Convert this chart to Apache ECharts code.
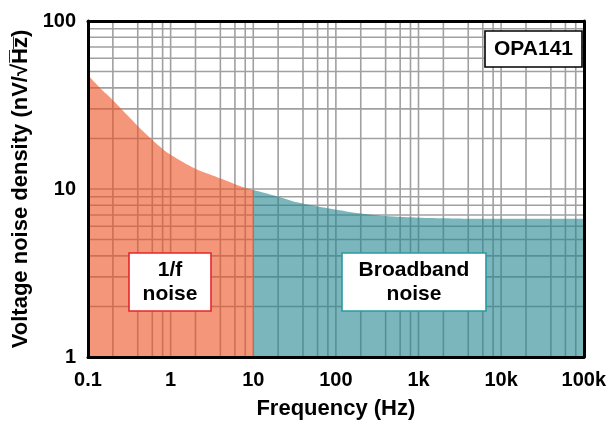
<!DOCTYPE html>
<html>
<head>
<meta charset="utf-8">
<script src="https://cdn.jsdelivr.net/npm/echarts@6/dist/echarts.min.js"></script>
<style>
html,body{margin:0;padding:0;background:#fff;}
#chart{width:609px;height:428px;}
</style>
</head>
<body>
<div id="chart"></div>
<script>
// ---- data ----
const freqOneOverF  = [0.1, 0.136, 0.2, 0.3, 0.5, 0.8, 1, 2, 3, 5, 7, 10];
const noiseOneOverF = [47.7, 40.5, 33.8, 27.5, 21.3, 17.3, 16.0, 13.2, 12.2, 11.1, 10.4, 9.85];
const freqBroadband  = [10, 20, 35, 50, 90, 200, 500, 1000, 2000, 5000, 10000, 100000];
const noiseBroadband = [9.85, 9.0, 8.3, 8.0, 7.6, 7.15, 6.85, 6.75, 6.7, 6.65, 6.65, 6.65];

const xTickLabels = ['0.1', '1', '10', '100', '1k', '10k', '100k'];
const yTickLabels = ['1', '10', '100'];
const xGridValues = [0.2, 0.4, 0.6, 0.8, 1, 2, 4, 6, 8, 10, 20, 40, 60, 80, 100,
  200, 400, 600, 800, 1000, 2000, 4000, 6000, 8000, 10000, 20000, 40000, 60000, 80000];
const yGridValues = [2, 3, 4, 5, 6, 7, 8, 9, 10, 20, 30, 40, 50, 60, 70, 80, 90];

const X_MIN = 0.1, X_MAX = 100000, Y_MIN = 1, Y_MAX = 100;
const FONT = '"Liberation Sans", Arial, Helvetica, sans-serif';
const GRID_COLOR = '#a0a0a0';

const chart = echarts.init(document.getElementById('chart'), null, {renderer: 'canvas'});

function zip(a, b) { return a.map((v, i) => [v, b[i]]); }

const labelStyle = {color: '#000', fontFamily: FONT, fontWeight: 'bold', fontSize: 20};

function boxGroup(cx, cy, w, h, lines, borderColor) {
  return {
    type: 'group',
    children: [
      {type: 'rect', shape: {x: cx - w / 2, y: cy - h / 2, width: w, height: h},
       style: {fill: '#fff', stroke: borderColor, lineWidth: 1.6}, z: 100},
      {type: 'text', x: cx, y: cy, z: 101,
       style: {text: lines, fill: '#000', font: 'bold 21px ' + FONT,
               align: 'center', verticalAlign: 'middle', lineHeight: 24}}
    ]
  };
}

const option = {
  animation: false,
  backgroundColor: '#fff',
  grid: {left: 88, right: 22, top: 21, bottom: 71, containLabel: false},
  xAxis: [{
    type: 'log', logBase: 10, min: X_MIN, max: X_MAX, position: 'bottom', z: 10,
    name: 'Frequency (Hz)', nameLocation: 'middle', nameGap: 41,
    nameTextStyle: {color: '#000', fontFamily: FONT, fontWeight: 'bold', fontSize: 22},
    axisLine: {show: true, lineStyle: {color: '#000', width: 3}},
    axisTick: {show: false},
    splitLine: {show: false},
    minorSplitLine: {show: false},
    axisLabel: Object.assign({
      margin: 13,
      formatter: v => xTickLabels[Math.round(Math.log10(v)) + 1]
    }, labelStyle)
  }, {
    type: 'log', logBase: 10, min: X_MIN, max: X_MAX, position: 'top', z: 10,
    axisLine: {show: true, lineStyle: {color: '#000', width: 3}},
    axisTick: {show: false}, axisLabel: {show: false}, splitLine: {show: false}
  }],
  yAxis: [{
    type: 'log', logBase: 10, min: Y_MIN, max: Y_MAX, position: 'left', z: 10,
    name: 'Voltage noise density (nV/\u221AH\u0305z\u0305)', nameLocation: 'middle', nameGap: 53,
    nameRotate: 90,
    nameTextStyle: {color: '#000', fontFamily: FONT, fontWeight: 'bold', fontSize: 22},
    axisLine: {show: true, lineStyle: {color: '#000', width: 3}},
    axisTick: {show: false},
    splitLine: {show: false},
    axisLabel: Object.assign({
      margin: 12,
      formatter: v => yTickLabels[Math.round(Math.log10(v))]
    }, labelStyle)
  }, {
    type: 'log', logBase: 10, min: Y_MIN, max: Y_MAX, position: 'right', z: 10,
    axisLine: {show: true, lineStyle: {color: '#000', width: 3}},
    axisTick: {show: false}, axisLabel: {show: false}, splitLine: {show: false}
  }],
  series: [
    {
      type: 'custom', name: 'vgrid', z: 1, silent: true, clip: true,
      xAxisIndex: 0, yAxisIndex: 0,
      data: xGridValues.map(v => [v, Y_MIN]),
      renderItem: (params, api) => {
        const p1 = api.coord([api.value(0), Y_MIN]);
        const p2 = api.coord([api.value(0), Y_MAX]);
        return {type: 'line', shape: {x1: p1[0], y1: p1[1], x2: p2[0], y2: p2[1]},
                style: {stroke: GRID_COLOR, lineWidth: 1.6}};
      }
    },
    {
      type: 'custom', name: 'hgrid', z: 1, silent: true, clip: true,
      xAxisIndex: 0, yAxisIndex: 0,
      data: yGridValues.map(v => [X_MIN, v]),
      renderItem: (params, api) => {
        const p1 = api.coord([X_MIN, api.value(1)]);
        const p2 = api.coord([X_MAX, api.value(1)]);
        return {type: 'line', shape: {x1: p1[0], y1: p1[1], x2: p2[0], y2: p2[1]},
                style: {stroke: GRID_COLOR, lineWidth: 1.6}};
      }
    },
    {
      type: 'line', name: '1/f noise', z: 2, silent: true,
      data: zip(freqOneOverF, noiseOneOverF),
      smooth: 0.4, symbol: 'none',
      lineStyle: {width: 0, opacity: 0},
      areaStyle: {color: 'rgba(237,80,33,0.6)', origin: 'start', opacity: 1}
    },
    {
      type: 'line', name: 'Broadband noise', z: 2, silent: true,
      data: zip(freqBroadband, noiseBroadband),
      smooth: 0.4, symbol: 'none',
      lineStyle: {width: 0, opacity: 0},
      areaStyle: {color: 'rgba(33,133,143,0.6)', origin: 'start', opacity: 1}
    }
  ],
  graphic: [
    boxGroup(170, 282, 82, 58, '1/f\nnoise', '#e8262a'),
    boxGroup(414, 282, 144, 58, 'Broadband\nnoise', '#2a9aa0'),
    boxGroup(533.5, 49, 97, 36, 'OPA141', '#000')
  ]
};

chart.setOption(option);
</script>
</body>
</html>
